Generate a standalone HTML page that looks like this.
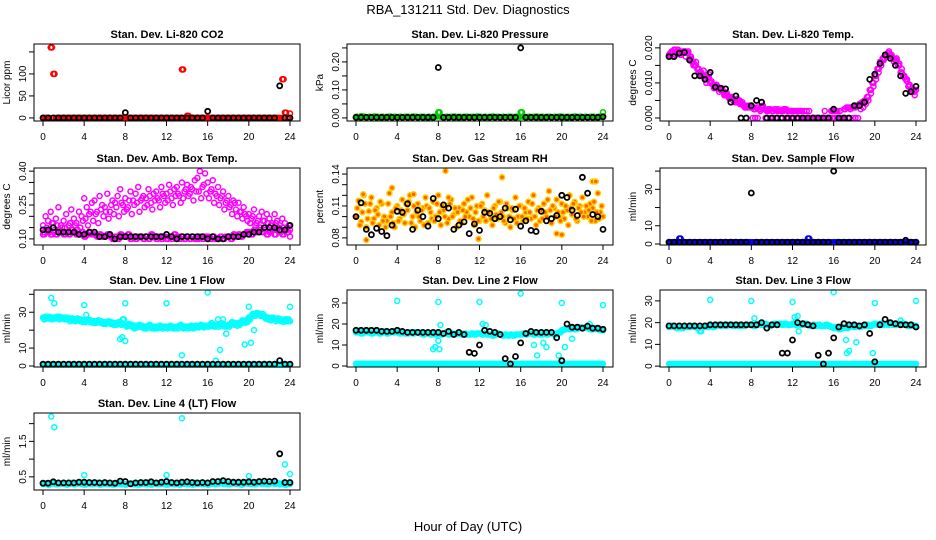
<!DOCTYPE html>
<html><head><meta charset="utf-8">
<style>
html,body{margin:0;padding:0;background:#fff;}
svg{display:block;font-family:"Liberation Sans",Arial,sans-serif;}
</style></head>
<body>
<svg id="chart" width="936" height="540" viewBox="0 0 936 540" xmlns="http://www.w3.org/2000/svg">
<rect x="0" y="0" width="936" height="540" fill="#fff"/>
<text x="468" y="14" text-anchor="middle" font-size="13">RBA_131211  Std. Dev. Diagnostics</text>
<text x="468" y="531" text-anchor="middle" font-size="13">Hour of Day (UTC)</text>
</svg>
<script>
// ---------- data (15-min series: 97 values, 30-min series: 49 values) ----------
const xTicks=[0,4,8,12,16,20,24];

const co2Ticks=[0,50,100,150];
const co2Labels=['0','50','100',''];
const co2Red=[0,0,0,160, 100,0,0,0, 0,0,0,0, 0,0,0,0, 0,0,0,0, 0,0,0,0, 0,0,0,0, 0,0,0,0, 0,0,0,0, 0,0,0,0, 0,0,0,0, 0,0,0,0, 0,0,0,0, 0,0,110,0, 5,0,0,0, 0,0,0,0, 0,0,0,0, 0,0,0,0, 0,0,0,0, 0,0,0,0, 0,0,0,0, 0,0,0,0, 0,0,0,0, 0,88,12,0, 10];
const co2Black=[0,0,0,0,0,0,0,0,0,0,0,0,0,0,0,0,12,0,0,0,0,0,0,0,0,0,0,0,0,0,0,0,15,0,0,0,0,0,0,0,0,0,0,0,0,0,73,0,0];

const presTicks=[0,0.05,0.10,0.15,0.20,0.25];
const presLabels=['0.00','','0.10','','0.20',''];
const presGreen=[.004,.003,.006,.004, .003,.004,.003,.005, .004,.003,.004,.003, .004,.005,.003,.004, .003,.004,.003,.004, .004,.003,.005,.004, .003,.004,.004,.003, .004,.003,.004,.005, .02,.004,.003,.004, .003,.004,.005,.003, .004,.003,.004,.004, .003,.004,.003,.005, .004,.003,.004,.003, .004,.005,.003,.004, .003,.004,.003,.004, .004,.003,.004,.003, .02,.004,.003,.004, .003,.004,.005,.003, .004,.003,.004,.004, .003,.004,.003,.005, .004,.003,.004,.003, .004,.005,.003,.004, .003,.004,.003,.004, .004,.003,.004,.005, .02];
const presBlack=[.002,.002,.002,.002,.002,.002,.002,.002,.002,.002,.002,.002,.002,.002,.002,.002,.18,.002,.002,.002,.002,.002,.002,.002,.002,.002,.002,.002,.002,.002,.002,.002,.25,.002,.002,.002,.002,.002,.002,.002,.002,.002,.002,.002,.002,.002,.002,.002,.004];

const tempTicks=[0,0.005,0.010,0.015,0.020];
const tempLabels=['0.000','','0.010','','0.020'];
const tempMag=[.018,.019,.0195,.019, .019,.0185,.019,.0185, .017,.016,.015,.014, .013,.012,.011,.0115, .010,.0095,.009,.0085, .008,.0075,.0065,.006, .0055,.005,.0045,.005, .004,.0035,.003,.0035, .003,.0025,.003,.0025, .003,.0025,.002,.0025, .002,.0025,.002,.002, .002,.0025,.002,.002, .002,.002,.002,.002, 0,0,0,0, 0,0,0,0, 0,0,0,.002, .002,.002,0,0, .0025,.003,.003,.003, .003,.0035,.004,.0045, .005,.006,.008,.010, .012,.014,.016,.017, .018,.0185,.018,.017, .0165,.015,.013,.012, .011,.009,.008,.0075, .008];
const tempMag2=[.0185,.0175,.018,.0195, .018,.019,.0175,.019, .0175,.015,.016,.013, .012,.0135,.010,.0125, .0105,.0085,.0095,.0075, .0085,.0065,.007,.0055, .006,.0045,.0055,.004, .0045,.003,.0035,.003, 0,0,0,.002, .0035,0,.0025,0, 0,0,.0025,0, .0025,0,0,0, 0,0,0,0, .002,.002,.002,0, 0,0,0,0, .002,0,0,0, 0,0,.002,0, 0,0,.0025,0, 0,0,.0025,.003, .004,.005,.007,.009, .011,.013,.015,.0165, .0175,.019,.0175,.016, .017,.0155,.014,.0115, .0105,.0095,.0085,.0065, .0075];
const tempBlack=[.0175,.0175,.0185,.0187,.0165,.012,.012,.011,.013,.0088,.0085,.0083,.0045,.0063,0,0,.0035,.005,.0045,0,0,0,0,0,0,0,0,0,0,0,0,0,.0025,0,0,0,.0035,.0035,.0045,.011,.0125,.0155,.018,.017,.015,.012,.007,.0075,.009];

const ambTicks=[0.10,0.15,0.20,0.25,0.30,0.35,0.40];
const ambLabels=['0.10','','','0.25','','','0.40'];
const ambHigh=[.16,.20,.18,.22, .17,.19,.24,.16, .18,.21,.16,.23, .19,.17,.22,.20, .28,.24,.21,.26, .27,.22,.29,.25, .24,.30,.22,.27, .26,.29,.32,.25, .28,.24,.31,.27, .30,.33,.27,.29, .28,.32,.26,.30, .31,.27,.33,.29, .30,.34,.28,.32, .33,.29,.35,.31, .34,.30,.32,.36, .37,.40,.33,.39, .35,.31,.36,.30, .33,.28,.31,.26, .29,.25,.27,.23, .26,.22,.24,.20, .21,.19,.23,.17, .20,.22,.18,.21, .19,.17,.21,.18, .16,.19,.17,.15, .14];
const ambMid=[.13,.15,.14,.17, .14,.16,.13,.15, .15,.13,.17,.14, .16,.14,.15,.18, .19,.16,.22,.18, .21,.17,.23,.20, .22,.19,.25,.21, .24,.20,.26,.22, .23,.27,.21,.25, .26,.22,.28,.24, .25,.29,.23,.27, .28,.24,.30,.26, .27,.31,.25,.29, .30,.26,.28,.32, .29,.33,.27,.31, .31,.28,.34,.30, .28,.32,.26,.29, .25,.29,.23,.27, .24,.21,.26,.20, .22,.19,.21,.18, .17,.20,.16,.18, .15,.18,.14,.17, .16,.14,.17,.15, .13,.15,.14,.16, .12];
const ambLow=[.12,.14,.13,.12, .13,.12,.14,.13, .12,.13,.12,.14, .13,.12,.12,.13, .11,.12,.13,.12, .12,.11,.12,.11, .11,.12,.11,.10, .11,.10,.12,.11, .11,.12,.10,.11, .10,.11,.11,.10, .11,.10,.12,.11, .10,.11,.10,.11, .10,.11,.10,.12, .11,.10,.11,.10, .11,.10,.11,.10, .10,.11,.10,.11, .11,.10,.11,.10, .10,.11,.10,.11, .11,.10,.12,.11, .12,.11,.12,.13, .13,.12,.14,.13, .14,.13,.15,.12, .13,.14,.12,.15, .13,.12,.14,.13, .11];
const ambBlack=[.14,.14,.15,.13,.13,.13,.13,.12,.12,.13,.13,.11,.11,.12,.10,.11,.11,.11,.11,.11,.11,.11,.11,.11,.12,.11,.10,.11,.11,.11,.11,.11,.10,.11,.10,.10,.11,.11,.11,.12,.12,.13,.13,.15,.15,.15,.14,.14,.16];

const rhTicks=[0.08,0.09,0.10,0.11,0.12,0.13,0.14];
const rhLabels=['0.08','','','0.11','','','0.14'];
const rh1=[.100,.115,.095,.120, .090,.105,.118,.098, .108,.092,.112,.100, .096,.122,.104,.090, .110,.098,.116,.094, .106,.120,.100,.090, .112,.096,.108,.118, .094,.104,.114,.100, .120,.092,.106,.110, .098,.116,.102,.090, .108,.094,.112,.104, .100,.118,.092,.110, .096,.112,.106,.120, .104,.092,.110,.098, .114,.100,.094,.108, .090,.106,.118,.100, .110,.096,.104,.114, .098,.120,.092,.108, .106,.112,.100,.124, .094,.108,.116,.100, .112,.098,.106,.120, .102,.114,.096,.110, .118,.104,.100,.112, .108,.096,.122,.104, .100];
const rh2=[.108,.092,.104,.112, .098,.112,.094,.106, .102,.114,.096,.090, .112,.100,.094,.108, .096,.106,.102,.112, .114,.094,.110,.104, .100,.106,.092,.110, .108,.098,.096,.112, .104,.110,.100,.094, .112,.100,.108,.104, .096,.106,.100,.116, .108,.098,.104,.096, .110,.100,.096,.104, .098,.108,.102,.114, .104,.096,.112,.100, .108,.098,.094,.110, .100,.108,.098,.104, .112,.100,.106,.096, .098,.104,.116,.106, .110,.100,.104,.096, .104,.110,.092,.108, .112,.098,.108,.104, .100,.110,.106,.096, .114,.104,.098,.110, .104];
const rhOutX=[8.7,14.2,23.0,23.3,0.7,3.5,1.0,11.9,5.6,9.0,19.5,20.0];
const rhOutY=[.143,.137,.133,.133,.121,.127,.078,.079,.121,.118,.084,.083];
const rhBlack=[.10,.113,.088,.083,.089,.086,.082,.092,.105,.104,.112,.088,.106,.100,.091,.117,.098,.111,.108,.088,.092,.095,.084,.093,.087,.104,.103,.098,.100,.108,.097,.107,.091,.096,.087,.086,.105,.096,.098,.101,.120,.118,.106,.101,.137,.122,.102,.100,.088];

const flowTicks=[0,10,20,30,40];
const flowLabels=['0','10','','30',''];
const sampleBlue=[1,1,1,1, 3,1,1,1, 1,1,1,1, 1,1,1,1, 1,1,1,1, 1,1,1,1, 1,1,1,1, 1,1,1,1, 1,1,1,1, 1,1,1,1, 1,1,1,1, 1,1,1,1, 1,1,1,1, 1,1,3,1, 1,1,1,1, 1,1,1,1, 1,1,1,1, 1,1,1,1, 1,1,1,1, 1,1,1,1, 1,1,1,1, 1,1,1,1, 1,1,1,1, 1,1,1,1, 1];
const sampleBlack=[1,1,1,1,1,1,1,1,1,1,1,1,1,1,1,1,28,1,1,1,1,1,1,1,1,1,1,1,1,1,1,1,40,1,1,1,1,1,1,1,1,1,1,1,1,1,2,1,1];

const line1Cyan=[27,27.5,26.5,27, 27,26.5,27.5,27, 27,26.5,26,26.5, 26,25.5,26,25.5, 25.5,25,25.5,25, 25,24.5,25,24.5, 24.5,24,24.5,24, 24,23.5,24,26, 23,22.5,23,22, 22.5,22,22.5,22, 22,22.5,21.5,22, 22,21.5,22,22, 22,21.5,22,21.5, 22,22.5,21.5,22, 22,21.5,22,22.5, 22,22.5,22,22.5, 22.5,23,22.5,23, 23,23.5,23,22.5, 23,23.5,24,23.5, 24,24.5,25,25.5, 27,28,29,29.5, 29,28,27.5,27, 26.5,27,26,26.5, 26,25.5,26,26, 25];
const line1Cyan2=[26,26.5,27.5,26, 26.5,27.5,26,26.5, 26,27,25,25.5, 25,26.5,25,24.5, 24.5,26,24.5,24, 24,25.5,24,23.5, 23.5,25,23.5,23, 23,24.5,23,23.5, 22,23.5,22,21, 21.5,23,21.5,21, 21,23,21,21, 21,22.5,21,21.5, 21,22.5,21,21, 21,23,21,21.5, 21,22.5,21,21.5, 21.5,23,21.5,22, 22,24,22,22, 22,24,22,22, 22,24.5,23,22.5, 23,25.5,24,24.5, 26,29,28,28.5, 28,29,26.5,26, 25.5,26,25,25.5, 25,24.5,25,25, 24];
const line1Low=[0.8,0.8,0.8,0.8, 0.8,0.8,0.8,0.8, 0.8,0.8,0.8,0.8, 0.8,0.8,0.8,0.8, 0.8,0.8,0.8,0.8, 0.8,0.8,0.8,0.8, 0.8,0.8,0.8,0.8, 0.8,0.8,0.8,0.8, 0.8,0.8,0.8,0.8, 0.8,0.8,0.8,0.8, 0.8,0.8,0.8,0.8, 0.8,0.8,0.8,0.8, 0.8,0.8,0.8,0.8, 0.8,0.8,0.8,0.8, 0.8,0.8,0.8,0.8, 0.8,0.8,0.8,0.8, 0.8,0.8,0.8,0.8, 0.8,0.8,0.8,0.8, 0.8,0.8,0.8,0.8, 0.8,0.8,0.8,0.8, 0.8,0.8,0.8,0.8, 0.8,0.8,0.8,0.8, 0.8,0.8,0.8,0.8, 0.8,0.8,0.8,0.8, 0.8];
const line1OutX=[0.8,1.1,4.0,4.2,7.5,7.7,8.0,8.0,12.0,13.5,16.0,16.8,17.0,17.2,17.5,17.8,19.6,20.0,20.2,20.5,24.0];
const line1OutY=[38,35,34,28.5,15,16,14,35,35,6,41,3,26,9,26,18,12,33,13,20,33];
const line1Black=[1,1,1,1,1,1,1,1,1,1,1,1,1,1,1,1,1,1,1,1,1,1,1,1,1,1,1,1,1,1,1,1,1,1,1,1,1,1,1,1,1,1,1,1,1,1,3,1,1];

const line2Ticks=[0,10,20,30];
const line2Labels=['0','10','20','30'];
const line2Cyan=[16,16.5,15.5,16, 16.5,16,15.5,16, 16,15.5,16,16.5, 15.5,16,16.5,16, 16,15.5,16,15.5, 15.5,16,15.5,16, 16,15.5,15,15.5, 15.5,15,15.5,15, 15.5,15,15.5,16, 15,15.5,15,15.5, 15.5,15,15.5,15, 15,15.5,15,15.5, 15.5,15,15.5,15, 15,14.5,15,15.5, 15,14.5,15,14.5, 15,14.5,15,15, 15,15.5,15,15.5, 15.5,15,15.5,15, 15,15.5,15,15.5, 15.5,15,15.5,16, 17,17.5,18,17.5, 18,17.5,18,18.5, 18,18.5,18,17.5, 17.5,18,17.5,17, 17];
const line2Low=[1,1,1,1, 1,1,1,1, 1,1,1,1, 1,1,1,1, 1,1,1,1, 1,1,1,1, 1,1,1,1, 1,1,1,1, 1,1,1,1, 1,1,1,1, 1,1,1,1, 1,1,1,1, 1,1,1,1, 1,1,1,1, 1,1,1,1, 1,1,1,1, 1,1,1,1, 1,1,1,1, 1,1,1,1, 1,1,1,1, 1,1,1,1, 1,1,1,1, 1,1,1,1, 1,1,1,1, 1];
const line2OutX=[4,8,12,16,20,24,7.5,7.7,8,8.1,8.2,12.3,12.6,17.3,17.6,18.2,18.5,19.7,20.3,21,22.7];
const line2OutY=[31,30.5,30.5,34.5,30,29,8,9,12,8,19.5,20,19.5,10,5,11,9,5,9,13,20];
const line2Black=[17,17,17,17,17,16.5,16.5,16.5,17,16.5,16,16,16,16,16,16,16,15.5,16.5,15,16,15,6.5,6,10,17,16.5,16,15,3.5,1,4.5,11,15.5,16.5,16,16,16,16,13.5,2.5,20,18.5,18.5,18,19,18,18,17.5];

const line3Cyan=[18,18.5,18,17.5, 18,17.5,18,18, 18,18.5,18,17.5, 16,18,18.5,18, 18.5,18,18.5,19, 18.5,19,18.5,19, 19,18.5,19,18.5, 19,18.5,19,19, 19,18.5,19,19.5, 19,19.5,19,18.5, 19,19.5,19,19.5, 19,19.5,19,19, 19.5,19,19.5,19, 19,19.5,19,18.5, 19,18.5,19,18.5, 18.5,19,18.5,18, 17.5,18,17,17.5, 18,17.5,18,18.5, 18,18.5,18,18.5, 18.5,19,18.5,19, 19.5,19,19.5,19, 19.5,19,19.5,19, 19,19.5,19,19.5, 19,18.5,19,18.5, 18.5];
const line3Low=[1,1,1,1, 1,1,1,1, 1,1,1,1, 1,1,1,1, 1,1,1,1, 1,1,1,1, 1,1,1,1, 1,1,1,1, 1,1,1,1, 1,1,1,1, 1,1,1,1, 1,1,1,1, 1,1,1,1, 1,1,1,1, 1,1,1,1, 1,1,1,1, 1,1,1,1, 1,1,1,1, 1,1,1,1, 1,1,1,1, 1,1,1,1, 1,1,1,1, 1,1,1,1, 1,1,1,1, 1];
const line3OutX=[4,8,12,16,20,24,3,8.3,12.2,12.5,12.6,17.2,17.3,17.5,18.2,19.8,22.5];
const line3OutY=[30.5,30,29.5,34,29,30,16,22,22.5,23,16,12,6,7,11,6,21];
const line3Black=[18.5,18.5,18.5,18.5,18.5,18.5,18.5,18.5,19,19,19,19,19,19,19,19,19,19,20,17.5,19,19,6,6,12,20,19.5,19,18.5,5,1,6,13,18,19.5,19,19,18.5,19,15,2,19,21.5,20,19.5,19,19,19,18];

const l4Ticks=[0.5,1.0,1.5,2.0];
const l4Labels=['0.5','','1.5',''];
const line4Cyan=[.30,.32,.28,.31, .33,.29,.31,.30, .32,.28,.30,.33, .29,.31,.34,.30, .28,.32,.30,.29, .31,.33,.28,.30, .32,.29,.31,.28, .30,.33,.29,.31, .28,.30,.32,.29, .31,.28,.30,.33, .29,.31,.28,.30, .32,.29,.31,.30, .28,.33,.30,.29, .31,.28,.32,.30, .29,.31,.28,.33, .30,.32,.29,.31, .28,.30,.33,.29, .31,.34,.30,.32, .29,.31,.33,.30, .32,.28,.31,.33, .30,.32,.29,.31, .33,.30,.32,.29, .31,.33,.30,.32, .29,.31,.28,.30, .30];
const line4OutX=[0.8,1.1,4,12,13.5,20,23.5,24];
const line4OutY=[2.2,1.9,0.55,0.55,2.15,0.52,0.85,0.58];
const line4Black=[.32,.32,.36,.33,.33,.33,.33,.35,.35,.34,.34,.33,.34,.33,.32,.38,.37,.30,.33,.34,.34,.36,.33,.35,.37,.34,.33,.35,.36,.34,.33,.34,.33,.37,.37,.39,.37,.35,.35,.35,.36,.35,.37,.38,.37,.38,1.15,.34,.34];

// ---------- layout ----------
const SVGNS='http://www.w3.org/2000/svg';
const svg=document.getElementById('chart');
const COLX=[34,347,660], ROWY=[44,168,290,413], BW=266, BH=77;

function mk(tag,attrs,parent){const e=document.createElementNS(SVGNS,tag);for(const k in attrs)e.setAttribute(k,attrs[k]);(parent||svg).appendChild(e);return e;}

const panels=[
 {c:0,r:0,title:'Stan. Dev. Li-820 CO2',ylab:'Licor ppm',lo:-7,hi:168,ticks:co2Ticks,labels:co2Labels,
  series:[{v:co2Red,step:0.25,col:'#ff0000',dup:true},{v:co2Black,step:0.5,col:'#000'}]},
 {c:1,r:0,title:'Stan. Dev. Li-820 Pressure',ylab:'kPa',lo:-0.011,hi:0.264,ticks:presTicks,labels:presLabels,
  series:[{v:presGreen,step:0.25,col:'#00cc00',dup:true},{v:presBlack,step:0.5,col:'#000'}]},
 {c:2,r:0,title:'Stan. Dev. Li-820 Temp.',ylab:'degrees C',lo:-0.00086,hi:0.0211,ticks:tempTicks,labels:tempLabels,
  series:[{v:tempMag,step:0.25,col:'#ff00ff',dup:true},{v:tempMag2,step:0.25,off:0.125,col:'#ff00ff'},{v:tempBlack,step:0.5,col:'#000'}]},
 {c:0,r:1,title:'Stan. Dev. Amb. Box Temp.',ylab:'degrees C',lo:0.073,hi:0.414,ticks:ambTicks,labels:ambLabels,
  series:[{v:ambHigh,step:0.25,col:'#ff00ff'},{v:ambMid,step:0.25,off:0.125,col:'#ff00ff'},{v:ambLow,step:0.25,col:'#ff00ff',dup:true},{v:ambBlack,step:0.5,col:'#000'}]},
 {c:1,r:1,title:'Stan. Dev. Gas Stream RH',ylab:'percent',lo:0.0733,hi:0.1457,ticks:rhTicks,labels:rhLabels,
  series:[{v:rh1,step:0.25,col:'#ffcc00',fill:'#ff6000'},{v:rh2,step:0.25,off:0.125,col:'#ffcc00',fill:'#ff6000'},{x:rhOutX,v:rhOutY,col:'#ffcc00',fill:'#ff6000'},{v:rhBlack,step:0.5,col:'#000'}]},
 {c:2,r:1,title:'Stan. Dev. Sample Flow',ylab:'ml/min',lo:-0.56,hi:41.7,ticks:flowTicks,labels:flowLabels,
  series:[{v:sampleBlue,step:0.25,col:'#0000ff',dup:true},{v:sampleBlack,step:0.5,col:'#000'}]},
 {c:0,r:2,title:'Stan. Dev. Line 1 Flow',ylab:'ml/min',lo:-0.56,hi:42.4,ticks:flowTicks,labels:flowLabels,
  series:[{v:line1Cyan,step:0.25,col:'#00ffff',dup:true},{v:line1Cyan2,step:0.25,off:0.125,col:'#00ffff'},{v:line1Low,step:0.25,col:'#00ffff',dup:true},{x:line1OutX,v:line1OutY,col:'#00ffff'},{v:line1Black,step:0.5,col:'#000'}]},
 {c:1,r:2,title:'Stan. Dev. Line 2 Flow',ylab:'ml/min',lo:-0.48,hi:36.2,ticks:line2Ticks,labels:line2Labels,
  series:[{v:line2Cyan,step:0.25,col:'#00ffff',dup:true},{v:line2Low,step:0.25,col:'#00ffff',dup:true},{x:line2OutX,v:line2OutY,col:'#00ffff'},{v:line2Black,step:0.5,col:'#000'}]},
 {c:2,r:2,title:'Stan. Dev. Line 3 Flow',ylab:'ml/min',lo:-0.4,hi:35,ticks:line2Ticks,labels:line2Labels,
  series:[{v:line3Cyan,step:0.25,col:'#00ffff',dup:true},{v:line3Low,step:0.25,col:'#00ffff',dup:true},{x:line3OutX,v:line3OutY,col:'#00ffff'},{v:line3Black,step:0.5,col:'#000'}]},
 {c:0,r:3,title:'Stan. Dev. Line 4 (LT) Flow',ylab:'ml/min',lo:0.129,hi:2.3,ticks:l4Ticks,labels:l4Labels,
  series:[{v:line4Cyan,step:0.25,col:'#00ffff',dup:true},{x:line4OutX,v:line4OutY,col:'#00ffff'},{v:line4Black,step:0.5,col:'#000'}]}
];

panels.forEach((p,pi)=>{
  const L=COLX[p.c], T=ROWY[p.r], B=T+BH, R=L+BW;
  const xs=h=>L+9+h*(247/24);
  const ys=v=>B-(v-p.lo)/(p.hi-p.lo)*BH;
  const g=mk('g',{});
  
  
  const t=mk('text',{x:(L+R)/2,y:T-6,'text-anchor':'middle','font-size':11,'font-weight':'bold'},g);
  t.textContent=p.title;
  
  
  const pg=mk('g',{},g);
  
  
  p.series.forEach(s=>{
    const offs=s.dup?[0,0.125]:[0];
    offs.forEach(d=>{
      s.v.forEach((val,i)=>{
        if(val===null) return;
        const h=s.x? s.x[i] : i*s.step+(s.off||0)+d;
        if(h>24.05) return;
        const c=mk('circle',{cx:xs(h).toFixed(1),cy:ys(val).toFixed(1),r:2.5,fill:s.fill||'none',stroke:s.col,'stroke-width':s.col==='#000'?1.8:1.5},pg);
        
        
      });
    });
  });
  const bx=mk('rect',{x:L,y:T,width:BW,height:BH,fill:'none',stroke:'#000','stroke-width':1},g);
  
  
  const xa=mk('g',{},g);
  
  
  mk('line',{x1:xs(xTicks[0]),x2:xs(xTicks[xTicks.length-1]),y1:B,y2:B,stroke:'#000'},xa);
  xTicks.forEach(v=>{
    mk('line',{x1:xs(v),x2:xs(v),y1:B,y2:B+5,stroke:'#000'},xa);
    const tl=mk('text',{x:xs(v),y:B+19,'text-anchor':'middle','font-size':10},xa);
    tl.textContent=v;
    
    
  });
  const ya=mk('g',{},g);
  
  
  mk('line',{x1:L,x2:L,y1:ys(p.ticks[0]),y2:ys(p.ticks[p.ticks.length-1]),stroke:'#000'},ya);
  p.ticks.forEach((v,i)=>{
    const y=ys(v);
    mk('line',{x1:L-5,x2:L,y1:y,y2:y,stroke:'#000'},ya);
    if(p.labels[i]){
      const tl=mk('text',{x:L-8,y:y,'text-anchor':'middle','font-size':10,transform:`rotate(-90 ${L-8} ${y})`},ya);
      tl.textContent=p.labels[i];
      
      
    }
  });
  const yl=mk('text',{x:L-24,y:(T+B)/2,'text-anchor':'middle','font-size':10,transform:`rotate(-90 ${L-24} ${(T+B)/2})`},g);
  yl.textContent=p.ylab;
  
  
});
</script>
</body></html>
